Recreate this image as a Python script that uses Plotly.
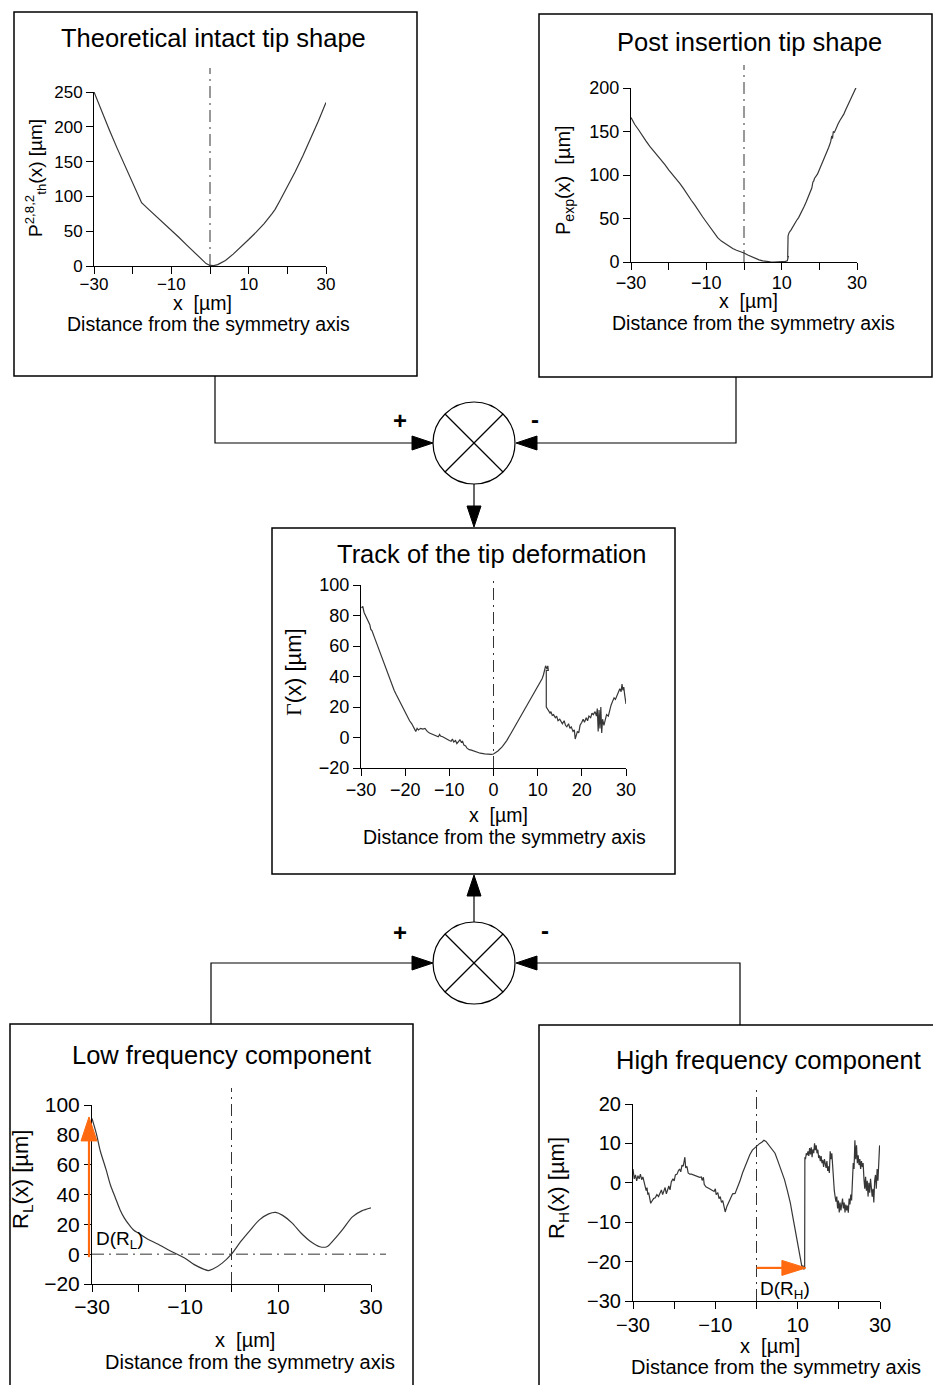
import plotly.graph_objects as go

# ---------------- data ----------------
# Theoretical intact tip shape
x_th = [-30, -28, -26, -24, -22, -20, -18, -17.7, -16, -14, -12, -10, -8, -6, -4, -3, -2, -1, 0,
        1, 2, 3, 4, 6, 8, 10, 12, 14, 16, 16.8, 18, 20, 22, 24, 26, 28, 30]
y_th = [250, 222, 195, 169, 144, 119, 95, 91, 82, 72, 62, 52, 41, 30, 19, 13.5, 8, 3.5, 0.8,
        0.5, 2, 4.5, 8, 17, 27, 38, 49, 61, 75, 81, 93, 113, 135, 158, 182, 208, 235]

# Post insertion tip shape
x_exp = [-30, -29.5, -29, -28, -27, -26, -25, -24, -23, -22, -21, -20, -19, -18, -17, -16, -15, -14,
         -13, -12, -11, -10, -9, -8, -7.5, -7, -6, -5, -4, -3, -2, -1, 0, 1, 2, 3, 4, 5, 6, 7, 8, 9,
         10, 11, 11.5, 11.8, 11.6, 11.7, 12, 12.5, 13, 13.5, 14, 14.5, 15, 15.5, 16, 16.5, 17, 17.5,
         18, 18.3, 18.5, 18.7, 19, 19.5, 20, 20.5, 21, 21.5, 22, 22.5, 23, 23.3, 23.5, 23.7, 24,
         24.5, 25, 25.5, 26, 26.5, 27, 27.5, 28, 28.5, 29, 29.5, 29.8]
y_exp = [166, 162, 158, 152, 145, 139, 133, 128, 122, 117, 112, 106, 101, 95, 90, 84, 77, 71,
         65, 58, 52, 46, 40, 33, 30, 28, 24, 21, 18, 15.5, 13.5, 12, 10.4, 8, 6, 4, 2.5, 1.3, 0.5,
         0.2, 0, 0, 0.3, 0.8, 1.5, 7, 5, 30, 34, 37, 41, 44, 48, 51, 55, 59, 64, 69, 74, 80,
         85, 92, 93, 96, 98, 101, 106, 111, 116, 120, 126, 132, 138, 145, 142, 150, 149,
         155, 159, 163, 166, 170, 175, 180, 184, 188, 193, 198, 201]

# Track of the tip deformation
x_gam = [-29.9, -29.6, -29.3, -29, -28.5, -28, -27.8, -27.5, -27, -26.5, -26, -25.5, -25.3, -25,
         -24.5, -24, -23.5, -23, -22.5, -22, -21.5, -21, -20.5, -20, -19.5, -19, -18.5, -18, -17.6,
         -17.3, -17, -16.5, -16, -15.5, -15, -14.5, -14, -13.5, -13, -12.5, -12.2, -12, -11.5, -11,
         -10.5, -10, -9.6, -9.3, -9, -8.6, -8.3, -8, -7.6, -7.3, -7, -6.7, -6.3, -6, -5.5, -5, -4.5,
         -4, -3.5, -3, -2, -1, -0.5, 0, 0.5, 1, 2, 3, 4, 5, 6, 7, 8, 9, 10, 11, 11.3, 11.5, 11.6,
         11.8, 12.1, 12.3, 12.4, 11.95, 11.95, 12.2, 12.5, 12.8, 13, 13.3, 13.6, 14, 14.3, 14.6, 15,
         15.3, 15.6, 16, 16.3, 16.6, 17, 17.3, 17.6, 18, 18.3, 18.5, 18.8, 19, 19.3, 19.6, 20, 20.3,
         20.6, 21, 21.3, 21.6, 22, 22.3, 22.6, 23, 23.3, 23.5, 23.7, 23.9, 24.1, 24.3, 24.5, 24.7, 25,
         25.3, 25.6, 26, 26.3, 26.6, 27, 27.3, 27.6, 28, 28.3, 28.6, 28.9, 29.1, 29.3, 29.5, 29.7, 30]
y_gam = [85, 86, 82, 80, 77, 74, 71, 70, 66, 62, 59, 55, 53, 50,
         46, 42, 38, 35, 31, 28, 25, 22, 20, 17, 14, 11, 9, 6, 4,
         6, 5, 6, 5.5, 6, 4, 3, 2.5, 1.5, 1, 0.5, 2, 1, 0.5, -0.5,
         -1.5, -2, -2.5, -1, -3, -2, -4, -3, -1.5, -3, -2.5, -5, -5.5, -7, -8, -8.3, -8.8,
         -9.5, -10, -10.3, -10.7, -11, -11, -10.8, -10, -8.8, -6, -2, 3, 8, 13, 18, 23, 28, 33, 38.5, 41, 44, 43,
         47, 45, 47, 44, 44, 20, 19, 18, 16, 17, 14.5, 15, 13, 14, 11, 12,
         10, 9, 11, 8, 7, 9, 6, 7, 4, 5, -1, 2, 4, 3, 8, 10, 12,
         10, 13, 11, 14, 13, 16, 15, 17, 14, 19, 4, 18, 6, 20, 3, 12, 8,
         12, 15, 14, 18, 21, 24, 26, 25, 28, 29, 32, 30, 35, 31, 33, 28, 22]

# Low frequency component
x_low = [-30, -29, -28.2, -27, -26, -25, -24, -23, -22, -21, -20, -18, -16, -13, -10, -8, -6, -5,
         -4, -2, 0, 2, 4, 6, 8, 9.5, 11, 13, 15, 17, 19, 20.5, 22, 24, 26, 28, 30]
y_low = [91, 80, 69, 57, 46, 38, 30, 24, 19.6, 16, 14, 10, 7, 2, -2.7, -7, -10, -11,
         -10, -6, 0, 8.5, 16, 23, 27, 28, 26, 21, 14, 8.5, 5, 5, 9.6, 17, 25, 29, 31]

# High frequency component
x_high = [-30, -29.7, -29.4, -29.1, -28.8, -28.5, -28.2, -27.9, -27.6, -27.3, -27, -26.8, -26.6,
          -26.4, -26.2, -26, -25.7, -25.3, -25, -24.6, -24.2, -23.8, -23.5, -23.1, -22.8, -22.5,
          -22.2, -21.9, -21.6, -21.3, -21, -20.7, -20.3, -20, -19.7, -19.3, -19, -18.7, -18.4,
          -18.1, -17.8, -17.6, -17.4, -17.2, -16.9, -16.6, -16.2, -15.8, -15.4, -15, -14.6, -14.2,
          -13.8, -13.4, -13.2, -12.9, -12.7, -12.3, -11.8, -11.3, -10.8, -10.3, -10, -9.8, -9.4,
          -9.1, -8.8, -8.5, -8.2, -7.9, -7.6, -7.2, -6.8, -6.3, -5.8, -5.2, -4.6, -4, -3.4, -2.8,
          -2.2, -1.6, -1, -0.5, 0, 0.3, 0.8, 1.3, 1.8, 2.3, 3, 3.8, 4.5, 5.2, 6, 6.8, 7.5, 8.2,
          8.8, 9.3, 9.8, 10.2, 10.6, 10.9, 11.1, 11.3, 11.5, 11.7, 11.75, 11.9, 12.1, 12.3, 12.5,
          12.7, 12.9, 13.1, 13.3, 13.5, 13.7, 13.9, 14.1, 14.3, 14.5, 14.7, 14.9, 15.1, 15.3, 15.5,
          15.7, 15.9, 16.1, 16.3, 16.5, 16.7, 16.9, 17.1, 17.3, 17.5, 17.7, 17.9, 18.1, 18.3, 18.5,
          18.7, 18.9, 19.1, 19.3, 19.5, 19.7, 19.9, 20.1, 20.3, 20.5, 20.7, 20.9, 21.1, 21.3, 21.5,
          21.7, 21.9, 22.1, 22.3, 22.5, 22.7, 22.9, 23.1, 23.3, 23.5, 23.7, 23.9, 24.1, 24.3, 24.5,
          24.7, 24.9, 25.1, 25.3, 25.5, 25.7, 25.9, 26.1, 26.3, 26.5, 26.7, 26.9, 27.1, 27.3, 27.5,
          27.7, 27.9, 28.1, 28.3, 28.5, 28.7, 28.9, 29.1, 29.3, 29.5, 29.7, 29.9]
y_high = [3.5, 1, 2, 0.5, 1.8, 1, 2.2, 0.8, 1.5, 0.3, -1, -2, -1.2,
          -3, -2.5, -4, -5.2, -4.5, -4, -3.8, -3, -3.5, -2.5, -1.8, -3, -2,
          -1.2, -2.8, -1.5, -0.8, -1.8, 0.2, 1, 0.5, 2, 2.2, 3, 3.5, 2.8,
          4.5, 4.2, 5.5, 6.5, 3.8, 4.2, 2.5, 2.2, 2.2, 2, 1.8, 1.7, 1.5,
          1.4, 1.5, 0.6, 1.4, -0.4, -1, -1.2, -1.6, -1.9, -2.2, -1.5, -3, -2.5,
          -4, -3.5, -5, -4.5, -6, -7.4, -6, -5, -4, -2.8, -2.7, -1.3, 0.5, 2.5, 4.2,
          5.8, 7.2, 8.3, 8.8, 9.2, 9.7, 10, 10.3, 10.8, 10.5, 9.5, 8.5, 7.5, 5.5, 3.2, 0.8, -2, -5,
          -8.5, -11.5, -14.5, -17, -19.5, -20.5, -21.7, -21, -22, -21.6, 6.5, 6, 7.5, 7, 8,
          6.8, 8.8, 7.2, 9, 6.5, 8.5, 7.5, 10, 8.3, 9.5, 7.5, 8.4, 6.3, 7, 5.5,
          6.8, 5, 5.8, 4, 6, 4.5, 3.8, 5.5, 3, 4.2, 2.5, 8, 6, 7.5, 3.5,
          1, -2, -3.5, -4.8, -3.5, -6.5, -4.5, -7.5, -5, -7, -5.5, -4, -6.5, -5, -7.5,
          -5.5, -7, -5.8, -7.6, -4, -5.5, -3, -4.5, 2, 5, 3.5, 10.8, 6, 9.5, 5,
          7, 4.5, 6, 3.5, 5.5, 4, 5, 1, -1.5, 1.5, -2, 0.5, -3.5, 0, -2.5,
          1, -1, -3.5, -1.5, -5, 0.5, 2, -1.5, 3.5, 0.5, 4, 9.5]

# tick labels
xticks_sparse = [-30, -10, 10, 30]
xlabels_sparse = ["−30", "−10", "10", "30"]
xticks_minor = [-20, 0, 20]
xticks_full = [-30, -20, -10, 0, 10, 20, 30]
xlabels_full = ["−30", "−20", "−10", "0", "10", "20", "30"]
yticks_th = [0, 50, 100, 150, 200, 250]
yticks_exp = [0, 50, 100, 150, 200]
yticks_gam = [-20, 0, 20, 40, 60, 80, 100]
yticks_low = [-20, 0, 20, 40, 60, 80, 100]
yticks_high = [-30, -20, -10, 0, 10, 20]

# D(R) markers
D_RL = dict(x=-30, y_from=-2, y_to=92)
D_RH = dict(y=-21.6, x_from=0, x_to=12)

# ---------------- layout helpers ----------------
W, H = 933, 1385
FONT = "Arial, 'Liberation Sans', sans-serif"
LINE = "#363636"
DASH = "#333333"
ORANGE = "#FF6A10"


def fx(p):
    return p / W


def fy(p):
    return 1 - p / H


panels = [
    dict(x=x_th, y=y_th, dx=(94, 326), dy=(92, 266), yr=(0, 250), yt=yticks_th,
         full=False, tfs=17, shape="linear", vline=(68, 266), so=-4),
    dict(x=x_exp, y=y_exp, dx=(631, 857), dy=(88, 262), yr=(0, 200), yt=yticks_exp,
         full=False, tfs=18, shape="linear", vline=(65, 262), so=-3),
    dict(x=x_gam, y=y_gam, dx=(361, 626), dy=(585, 768), yr=(-20, 100), yt=yticks_gam,
         full=True, tfs=18, shape="linear", vline=(578, 768), so=-2),
    dict(x=x_low, y=y_low, dx=(92, 371), dy=(1105, 1284), yr=(-20, 100), yt=yticks_low,
         full=False, tfs=21, shape="spline", vline=(1088, 1284), so=-3),
    dict(x=x_high, y=y_high, dx=(633, 880), dy=(1104, 1301), yr=(-30, 20), yt=yticks_high,
         full=False, tfs=20, shape="linear", vline=(1085, 1301), so=-1),
]

fig = go.Figure()
layout = dict(width=W, height=H, margin=dict(l=0, r=0, t=0, b=0, pad=0, autoexpand=False),
              autosize=False, paper_bgcolor="white", plot_bgcolor="rgba(0,0,0,0)",
              showlegend=False, font=dict(family=FONT, color="black"))
shapes = []
annotations = []

for i, p in enumerate(panels, start=1):
    sx = "" if i == 1 else str(i)
    xa, ya = "x" + sx, "y" + sx
    fig.add_trace(go.Scatter(x=p["x"], y=p["y"], xaxis=xa, yaxis=ya, mode="lines",
                             line=dict(color=LINE, width=1.2, shape=p["shape"], smoothing=0.8),
                             hoverinfo="skip"))
    common = dict(showline=True, linecolor="black", linewidth=1, ticks="outside", ticklen=7,
                  tickcolor="black", tickwidth=1, showgrid=False, zeroline=False,
                  automargin=False, fixedrange=True,
                  tickfont=dict(size=p["tfs"], family=FONT, color="black"))
    xdict = dict(domain=[fx(p["dx"][0]), fx(p["dx"][1])], range=[-30, 30], anchor=ya,
                 ticklabelstandoff=p["so"], **common)
    if p["full"]:
        xdict.update(tickmode="array", tickvals=xticks_full, ticktext=xlabels_full)
    else:
        xdict.update(tickmode="array", tickvals=xticks_sparse, ticktext=xlabels_sparse,
                     minor=dict(tickmode="array", tickvals=xticks_minor, ticks="outside",
                                ticklen=7, tickcolor="black", tickwidth=1, showgrid=False))
    layout["xaxis" + sx] = xdict
    layout["yaxis" + sx] = dict(domain=[fy(p["dy"][1]), fy(p["dy"][0])], range=list(p["yr"]),
                                tickmode="array", tickvals=p["yt"], anchor=xa, **common)
    # symmetry axis
    shapes.append(dict(type="line", xref=xa, yref="paper", x0=0, x1=0,
                       y0=fy(p["vline"][1]), y1=fy(p["vline"][0]),
                       line=dict(color=DASH, width=1, dash="12px,5px,2px,5px")))

# horizontal zero line in low-frequency panel
shapes.append(dict(type="line", xref="paper", yref="y4", x0=fx(92), x1=fx(386), y0=0, y1=0,
                   line=dict(color=DASH, width=1, dash="12px,5px,2px,5px")))

# orange D(R) arrows, head size defined in pixels and converted to data units
p4, p5 = panels[3], panels[4]
sy4 = (p4["dy"][1] - p4["dy"][0]) / (p4["yr"][1] - p4["yr"][0])
sx5 = (p5["dx"][1] - p5["dx"][0]) / 60.0
sy5 = (p5["dy"][1] - p5["dy"][0]) / (p5["yr"][1] - p5["yr"][0])

# x position of the arrow in paper pixels (just left of the y axis at x=D_RL["x"])
ax_px = p4["dx"][0] + (D_RL["x"] + 30) * (p4["dx"][1] - p4["dx"][0]) / 60.0 - 3
hl = 24 / sy4
shapes.append(dict(type="line", xref="paper", yref="y4", x0=fx(ax_px), x1=fx(ax_px),
                   y0=D_RL["y_from"], y1=D_RL["y_to"] - hl, line=dict(color=ORANGE, width=2.2)))
shapes.append(dict(type="path", xref="paper", yref="y4",
                   path=f"M {fx(ax_px - 8)},{D_RL['y_to'] - hl} L {fx(ax_px + 8)},{D_RL['y_to'] - hl} L {fx(ax_px)},{D_RL['y_to']} Z",
                   fillcolor=ORANGE, line=dict(color=ORANGE, width=1)))

hl, hw = 24 / sx5, 7.5 / sy5
shapes.append(dict(type="line", xref="x5", yref="y5", x0=D_RH["x_from"], x1=D_RH["x_to"] - hl,
                   y0=D_RH["y"], y1=D_RH["y"], line=dict(color=ORANGE, width=2.2)))
shapes.append(dict(type="path", xref="x5", yref="y5",
                   path=f"M {D_RH['x_to'] - hl},{D_RH['y'] - hw} L {D_RH['x_to'] - hl},{D_RH['y'] + hw} L {D_RH['x_to']},{D_RH['y']} Z",
                   fillcolor=ORANGE, line=dict(color=ORANGE, width=1)))

# boxes
for (l, t, r, b) in [(14, 12, 417, 376), (539, 14, 932, 377), (272, 528, 675, 874),
                     (10, 1024, 413, 1395), (539, 1025, 940, 1395)]:
    shapes.append(dict(type="rect", xref="paper", yref="paper", x0=fx(l), x1=fx(r),
                       y0=fy(b), y1=fy(t), line=dict(color="black", width=1.5)))


def poly(pts, closed=False):
    s = "M " + " L ".join(f"{fx(a)},{fy(b)}" for a, b in pts)
    return s + (" Z" if closed else "")


def head(tip, direction, length=21, half=7):
    x, y = tip
    if direction == "right":
        pts = [(x - length, y - half), (x - length, y + half), (x, y)]
    elif direction == "left":
        pts = [(x + length, y - half), (x + length, y + half), (x, y)]
    elif direction == "down":
        pts = [(x - half, y - length), (x + half, y - length), (x, y)]
    else:
        pts = [(x - half, y + length), (x + half, y + length), (x, y)]
    return dict(type="path", xref="paper", yref="paper", path=poly(pts, True),
                fillcolor="black", line=dict(color="black", width=1))


def wire(pts):
    return dict(type="path", xref="paper", yref="paper", path=poly(pts),
                line=dict(color="black", width=1.2))


# summing junctions
R = 41
for cx, cy in [(474, 443), (474, 963)]:
    shapes.append(dict(type="circle", xref="paper", yref="paper", x0=fx(cx - R), x1=fx(cx + R),
                       y0=fy(cy + R), y1=fy(cy - R), line=dict(color="black", width=1.2)))
    d = R * 0.707
    shapes.append(wire([(cx - d, cy - d), (cx + d, cy + d)]))
    shapes.append(wire([(cx + d, cy - d), (cx - d, cy + d)]))

# top junction wiring
shapes.append(wire([(215, 376), (215, 443), (414, 443)]))
shapes.append(head((433, 443), "right"))
shapes.append(wire([(736, 377), (736, 443), (535, 443)]))
shapes.append(head((516, 443), "left"))
shapes.append(wire([(474, 484), (474, 508)]))
shapes.append(head((474, 527), "down"))
# bottom junction wiring
shapes.append(wire([(211, 1024), (211, 963), (414, 963)]))
shapes.append(head((433, 963), "right"))
shapes.append(wire([(740, 1025), (740, 963), (535, 963)]))
shapes.append(head((516, 963), "left"))
shapes.append(wire([(474, 922), (474, 895)]))
shapes.append(head((474, 875), "up"))


def txt(text, x, y, size, angle=0, bold=False):
    if bold:
        text = f"<b>{text}</b>"
    annotations.append(dict(text=text, x=fx(x), y=fy(y), xref="paper", yref="paper",
                            xanchor="center", yanchor="middle", showarrow=False,
                            textangle=angle, font=dict(size=size, family=FONT, color="black")))


# titles
txt("Theoretical intact tip shape", 213, 38, 25.5)
txt("Post insertion tip shape", 749, 42, 25.5)
txt("Track of the tip deformation", 491, 554, 25.5)
txt("Low frequency component", 221, 1055, 25.5)
txt("High frequency component", 768, 1060, 25.5)

# x titles
for (cx1, cy1, cx2, cy2, s) in [(202, 303, 208, 324, 19.5), (748, 301, 753, 323, 19.5),
                                (498, 815, 504, 837, 19.5), (245, 1340, 250, 1362, 20),
                                (770, 1346, 776, 1367, 20)]:
    txt("x  [µm]", cx1, cy1, s)
    txt("Distance from the symmetry axis", cx2, cy2, s)

# y titles
txt("P<sup>2,8,2</sup><sub>th</sub>(x) [µm]", 35, 178, 19, -90)
txt("P<sub>exp</sub>(x)  [µm]", 565, 180, 20, -90)
txt("<span style=\"font-family:'Liberation Serif', 'Times New Roman', serif\">Γ</span>(x) [µm]",
    293, 672, 22, -90)
txt("R<sub>L</sub>(x) [µm]", 22, 1180, 22, -90)
txt("R<sub>H</sub>(x) [µm]", 558, 1188, 22, -90)

# D labels
txt("D(R<sub>L</sub>)", 120, 1240, 19)
txt("D(R<sub>H</sub>)", 785, 1290, 19)

# signs
txt("+", 400, 420, 24, bold=True)
txt("-", 535, 419, 24, bold=True)
txt("+", 400, 932, 24, bold=True)
txt("-", 545, 930, 24, bold=True)

layout["shapes"] = shapes
layout["annotations"] = annotations
fig.update_layout(**layout)

fig.write_html("out.html", config={"displayModeBar": False},
               post_script="document.body.style.margin='0';document.body.style.overflow='hidden';")
